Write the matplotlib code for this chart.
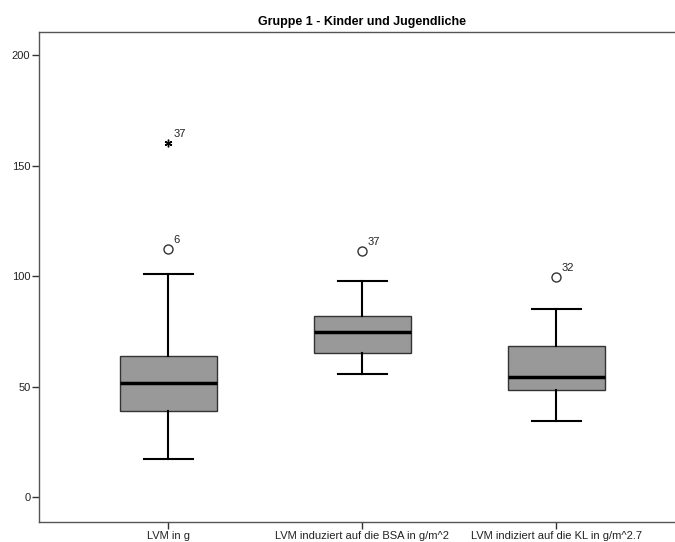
import matplotlib.pyplot as plt

plt.switch_backend('Agg')
plt.rcParams['font.family'] = ['Liberation Sans', 'DejaVu Sans']

# Boxplot summary per measure
labels = ['LVM in g', 'LVM induziert auf die BSA in g/m^2', 'LVM indiziert auf die KL in g/m^2.7']
whis_low = [17.3, 55.9, 34.3]
q1 = [39.1, 65.1, 48.6]
median = [51.7, 74.9, 54.5]
q3 = [63.9, 81.9, 68.4]
whis_high = [100.8, 97.7, 85.3]

# Outliers: (box index, value, case number, extreme?)
outliers = [
    (0, 112.2, '6', False),
    (0, 160.1, '37', True),
    (1, 111.4, '37', False),
    (2, 99.5, '32', False),
]

stats = []
for i, lab in enumerate(labels):
    stats.append({'label': lab, 'whislo': whis_low[i], 'q1': q1[i], 'med': median[i],
                  'q3': q3[i], 'whishi': whis_high[i], 'fliers': []})

fig = plt.figure(figsize=(6.75, 5.42), dpi=100)
ax = fig.add_axes([0.0573, 0.0375, 0.959, 0.904])

ax.bxp(stats, positions=[1, 2, 3], widths=0.5, capwidths=0.25, patch_artist=True,
       showfliers=False,
       boxprops=dict(facecolor='#999999', edgecolor='#333333', linewidth=1.0),
       medianprops=dict(color='black', linewidth=2.5),
       whiskerprops=dict(color='black', linewidth=1.5),
       capprops=dict(color='black', linewidth=1.5))

for idx, val, case, extreme in outliers:
    pos = idx + 1
    if extreme:
        # asterisk for extreme values
        ax.plot(pos, val, marker=(6, 2, 0), color='black', markersize=5.5,
                markeredgewidth=1.0, linestyle='none')
    else:
        ax.plot(pos, val, marker='o', markerfacecolor='white', markeredgecolor='#333333',
                markersize=6.5, markeredgewidth=1.0, linestyle='none')
    ax.annotate(case, (pos, val), xytext=(4, 3), textcoords='offset points',
                fontsize=8, color='#222222', ha='left', va='bottom')

ax.set_xlim(0.332, 3.668)
ax.set_ylim(-11.1, 210.6)
ax.set_yticks([0, 50, 100, 150, 200])
ax.set_xticks([1, 2, 3])
ax.set_xticklabels(labels)

for sp in ax.spines.values():
    sp.set_color('#555555')
    sp.set_linewidth(1.0)
ax.tick_params(axis='both', direction='out', length=5, width=1.0, color='#333333',
               labelsize=8, labelcolor='#222222', pad=1)
ax.tick_params(axis='x', pad=1.5)

ax.set_title('Gruppe 1 - Kinder und Jugendliche', fontsize=9, fontweight='bold', pad=5)

fig.savefig('out.png', dpi=100)
plt.close(fig)
